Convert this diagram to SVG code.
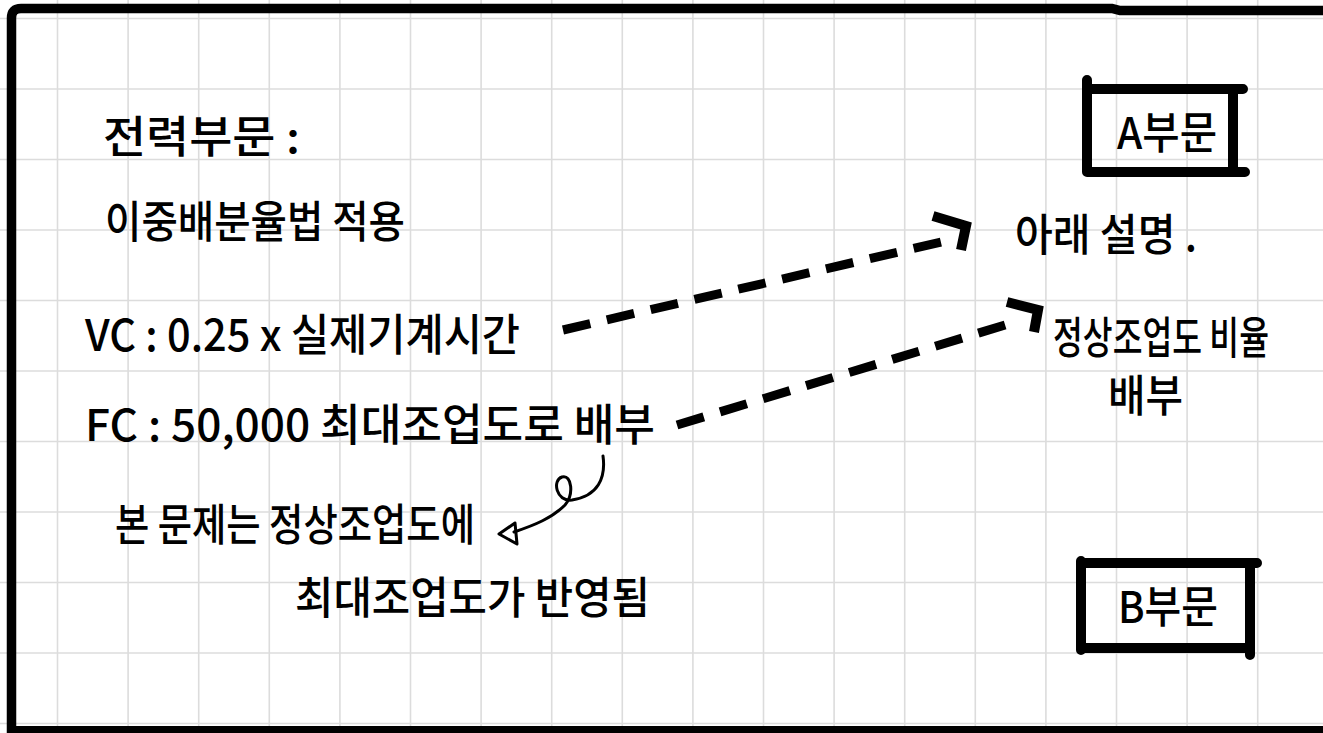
<svg xmlns="http://www.w3.org/2000/svg" width="1323" height="733" viewBox="0 0 1323 733">
<style>
.grid line{stroke:#dcdcdc;stroke-width:1.6}
.hw{font-family:"Noto Sans CJK KR","Noto Sans",sans-serif;font-size:44px;font-weight:500;fill:#000}
.box{fill:none;stroke:#000;stroke-width:10;stroke-linecap:round}
.dash{fill:none;stroke:#000;stroke-width:9;stroke-dasharray:28 17}
.head{fill:none;stroke:#000;stroke-width:10;stroke-linejoin:miter}
.thin{fill:none;stroke:#000;stroke-width:3;stroke-linecap:round;stroke-linejoin:round}
</style>
<rect width="1323" height="733" fill="#fff"/>
<g class="grid">
<line x1="57.5" y1="0" x2="57.5" y2="733"/><line x1="128.1" y1="0" x2="128.1" y2="733"/><line x1="198.7" y1="0" x2="198.7" y2="733"/><line x1="269.3" y1="0" x2="269.3" y2="733"/><line x1="339.9" y1="0" x2="339.9" y2="733"/><line x1="410.5" y1="0" x2="410.5" y2="733"/><line x1="481.1" y1="0" x2="481.1" y2="733"/><line x1="551.7" y1="0" x2="551.7" y2="733"/><line x1="622.3" y1="0" x2="622.3" y2="733"/><line x1="692.9" y1="0" x2="692.9" y2="733"/><line x1="763.5" y1="0" x2="763.5" y2="733"/><line x1="834.1" y1="0" x2="834.1" y2="733"/><line x1="904.7" y1="0" x2="904.7" y2="733"/><line x1="975.3" y1="0" x2="975.3" y2="733"/><line x1="1045.9" y1="0" x2="1045.9" y2="733"/><line x1="1116.5" y1="0" x2="1116.5" y2="733"/><line x1="1187.1" y1="0" x2="1187.1" y2="733"/><line x1="1257.7" y1="0" x2="1257.7" y2="733"/>
<line x1="0" y1="18.5" x2="1323" y2="18.5"/><line x1="0" y1="89" x2="1323" y2="89"/><line x1="0" y1="159.5" x2="1323" y2="159.5"/><line x1="0" y1="230" x2="1323" y2="230"/><line x1="0" y1="300.5" x2="1323" y2="300.5"/><line x1="0" y1="371" x2="1323" y2="371"/><line x1="0" y1="441.5" x2="1323" y2="441.5"/><line x1="0" y1="512" x2="1323" y2="512"/><line x1="0" y1="582.5" x2="1323" y2="582.5"/><line x1="0" y1="653" x2="1323" y2="653"/><line x1="0" y1="723.5" x2="1323" y2="723.5"/>
</g>
<g id="frame">
<path d="M11.5,733 L11.5,18 Q11.5,8.5 21,8.5 L1112,8.5 L1120,10.5 L1323,10.5" fill="none" stroke="#000" stroke-width="9.5"/>
<rect x="7" y="726" width="1316" height="7" fill="#000"/>
</g>
<g id="power-dept">
<text class="hw" x="103" y="153" font-size="46" textLength="197" lengthAdjust="spacingAndGlyphs">전력부문 :</text>
<text class="hw" x="105" y="238" textLength="300" lengthAdjust="spacingAndGlyphs">이중배분율법 적용</text>
</g>
<g id="vc">
<text class="hw" x="85" y="351" font-size="46" textLength="435" lengthAdjust="spacingAndGlyphs">VC : 0.25 x 실제기계시간</text>
</g>
<g id="fc">
<text class="hw" x="85" y="441" font-size="46" textLength="570" lengthAdjust="spacingAndGlyphs">FC : 50,000 최대조업도로 배부</text>
</g>
<g id="note">
<text class="hw" x="115" y="541" font-size="46" textLength="360" lengthAdjust="spacingAndGlyphs">본 문제는 정상조업도에</text>
<text class="hw" x="295" y="614" font-size="46" textLength="355" lengthAdjust="spacingAndGlyphs">최대조업도가 반영됨</text>
</g>
<g id="dept-a">
<path class="box" d="M1087,80 L1087,172 M1087,89 L1243,89 M1233,89 L1233,172 M1087,172 L1245,172"/>
<text class="hw" x="1117" y="149" font-size="42" textLength="100" lengthAdjust="spacingAndGlyphs">A부문</text>
</g>
<g id="explain">
<text class="hw" x="1015" y="251" font-size="40" textLength="182" lengthAdjust="spacingAndGlyphs">아래 설명 .</text>
</g>
<g id="normal-ratio">
<text class="hw" x="1053" y="354" font-size="40" textLength="216" lengthAdjust="spacingAndGlyphs">정상조업도 비율</text>
<text class="hw" x="1108" y="412" font-size="40" textLength="75" lengthAdjust="spacingAndGlyphs">배부</text>
</g>
<g id="dept-b">
<path class="box" d="M1081,561 L1081,650 M1081,563 L1257,563 M1250,563 L1250,655 M1081,648 L1250,648"/>
<text class="hw" x="1118" y="623" font-size="42" textLength="100" lengthAdjust="spacingAndGlyphs">B부문</text>
</g>
<g id="connectors">
<line class="dash" x1="563" y1="330" x2="950" y2="240"/>
<path class="head" d="M933,216 L966,226 L961,250"/>
<line class="dash" x1="677" y1="425" x2="1015" y2="322"/>
<path class="head" d="M1007,302 L1038,310 L1034,332"/>
<path class="thin" d="M603,456 C606,478 598,496 572,500 C556,502 552,480 562,477 C572,474 574,495 565,505 C552,518 535,525 514,532"/>
<path class="thin" d="M515,523 L499,534 L517,544 Z"/>
</g>
</svg>
